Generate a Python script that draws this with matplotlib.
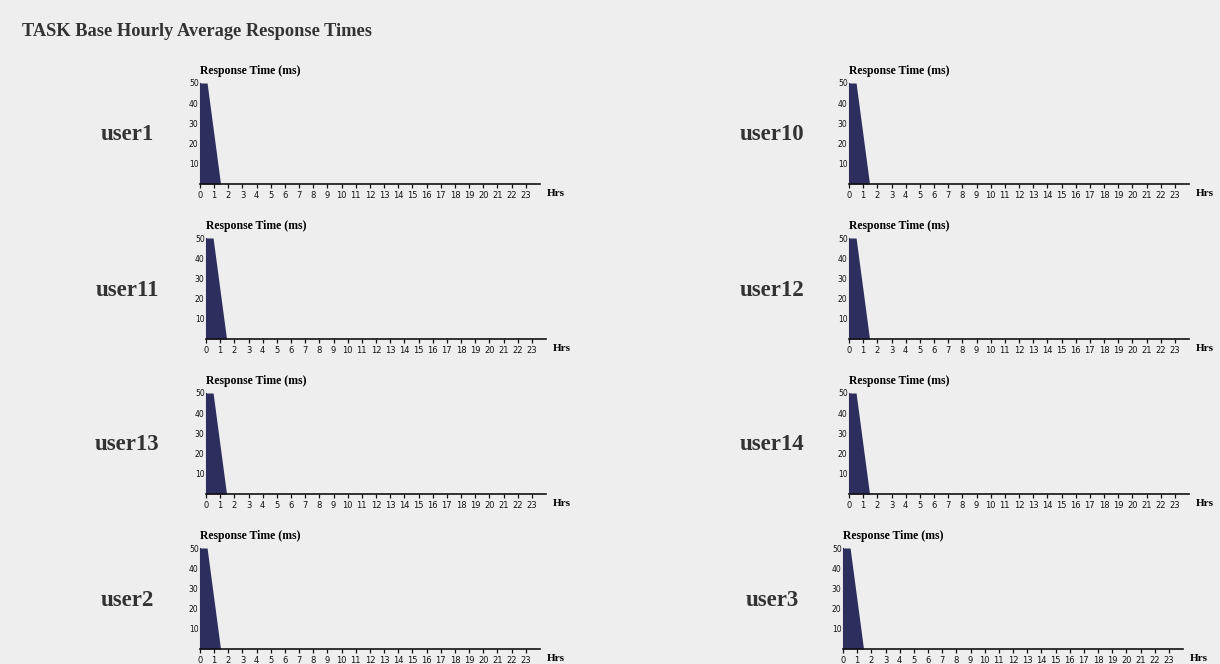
import matplotlib.pyplot as plt

# data (same shape in every panel)
users = ["user1", "user10", "user11", "user12", "user13", "user14", "user2", "user3"]
hours = [0, 0.5, 1.45]
resp_ms = [50, 50, 0]
hour_ticks = list(range(24))
y_ticks = [10, 20, 30, 40, 50]

W, H = 1220, 664
bg = "#eeeeee"
fill_col = "#2d2d5e"
serif = ["Liberation Serif", "DejaVu Serif"]

fig = plt.figure(figsize=(W / 100, H / 100), dpi=100, facecolor=bg)

fig.text(22 / W, 1 - 31 / H, "TASK Base Hourly Average Response Times",
         family=serif, fontweight="bold", fontsize=13.2, color="#333333", va="center")

# pixel layout of the panels: (x of hour 0, y of axis bottom)
lefts = [200, 849, 206, 849, 206, 849, 200, 843]
bottoms = [184, 184, 339, 339, 494, 494, 649, 649]
label_x = [127, 772, 127, 772, 127, 772, 127, 772]
ax_w, ax_h = 340, 101

for i, name in enumerate(users):
    x0, yb = lefts[i], bottoms[i]
    ax = fig.add_axes([x0 / W, 1 - yb / H, ax_w / W, ax_h / H])
    ax.set_facecolor(bg)
    ax.fill_between(hours, resp_ms, 0, color=fill_col, linewidth=0)
    ax.set_xlim(0, 24)
    ax.set_ylim(0, 50)
    ax.set_xticks(hour_ticks)
    ax.set_xticklabels([str(h) for h in hour_ticks], fontsize=6, color="#111111")
    ax.set_yticks(y_ticks)
    ax.set_yticklabels([str(v) for v in y_ticks], fontsize=5.5, color="#111111")
    for s in ["top", "right"]:
        ax.spines[s].set_visible(False)
    ax.spines["bottom"].set_color("#111111")
    ax.spines["bottom"].set_linewidth(1.2)
    ax.spines["left"].set_color(fill_col)
    ax.tick_params(axis="x", length=3, width=0.9, pad=2, color="#111111")
    ax.tick_params(axis="y", length=0, pad=1)
    ax.text(0, 1.06, "Response Time (ms)", transform=ax.transAxes, family=serif,
            fontweight="bold", fontsize=8.5, va="bottom", ha="left")
    ax.text(1.02, -0.09, "Hrs", transform=ax.transAxes, family=serif,
            fontweight="bold", fontsize=8, va="center", ha="left")
    fig.text(label_x[i] / W, 1 - (yb - 49) / H, name, family=serif, fontweight="bold",
             fontsize=16.5, color="#333333", ha="center", va="center")

plt.savefig("out.png", dpi=100, facecolor=bg)
